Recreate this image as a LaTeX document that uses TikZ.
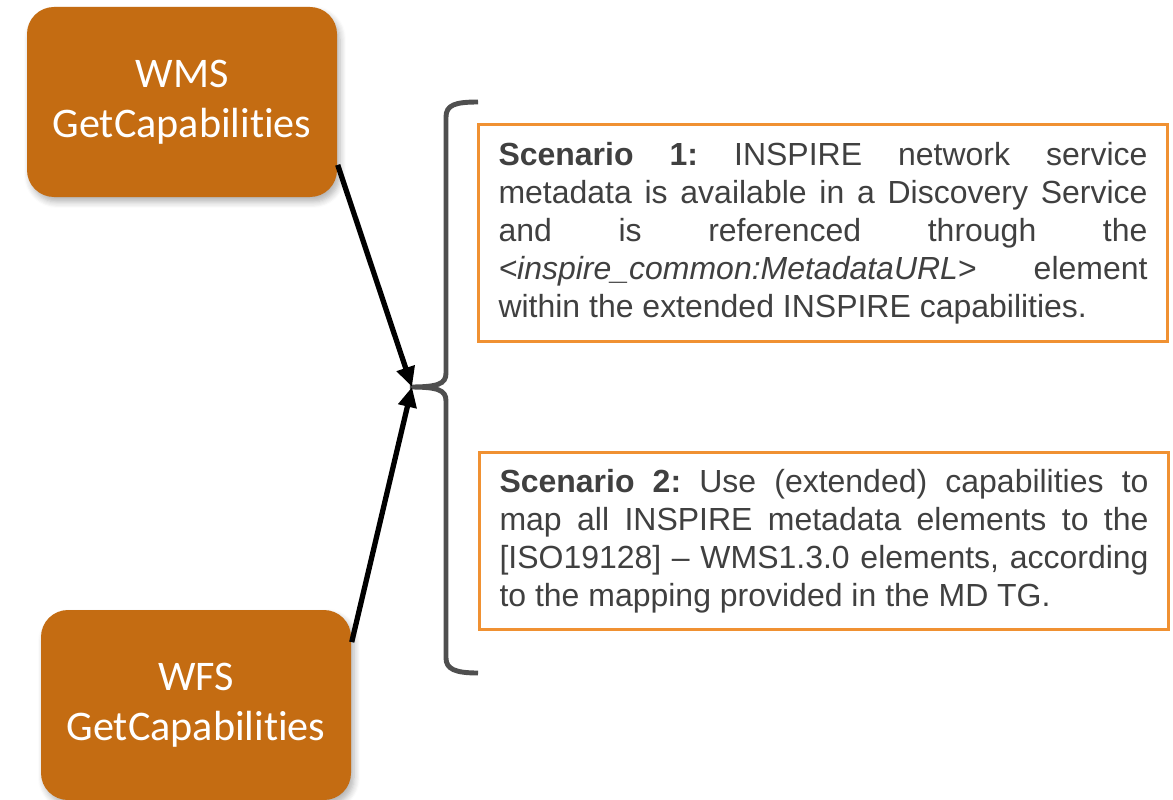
\documentclass[tikz,border=0pt]{standalone}
\usepackage{fontspec}
\newfontfamily\capfont[Ligatures=NoCommon]{Carlito}
\newfontfamily\scenfont{Liberation Sans}
\usetikzlibrary{arrows.meta,shadows.blur}
\definecolor{capbrown}{HTML}{C46C12}
\definecolor{scenorange}{HTML}{F09132}
\definecolor{textgray}{HTML}{404040}
\definecolor{bracegray}{HTML}{4F4F4F}
\begin{document}
\frenchspacing
\begin{tikzpicture}
\useasboundingbox (0,0) rectangle (11.73,7.99);
\begin{scope}[every node/.style = {rectangle, rounded corners=0.27cm, fill=capbrown,
    text=white, align=center, minimum width=3.1cm, minimum height=1.9cm,
    font=\capfont\fontsize{12}{14.2}\selectfont,
    blur shadow={shadow xshift=0.03cm, shadow yshift=-0.05cm, shadow opacity=30, shadow blur steps=6}}]
\node (wms) at (1.82, 6.97) {WMS\\GetCapabilities};
\node (wfs) at (1.96, 0.94) {WFS\\GetCapabilities};
\end{scope}
\begin{scope}[every node/.style = {rectangle, draw=scenorange, line width=1.1pt, fill=white,
    text=textgray, align=justify, text width=6.49cm, inner xsep=0.2cm,
    font=\scenfont\fontsize{9.1}{10.8}\selectfont}]
\node[minimum height=2.17cm] (scen1) at (8.23, 5.66) {\textbf{Scenario 1:} INSPIRE network service\linebreak{}
metadata is available in a Discovery Service\linebreak{}
and is referenced through the\linebreak{}
\textit{<inspire\_common:MetadataURL}> element\linebreak{}
within the extended INSPIRE capabilities.};
\node[minimum height=1.77cm] (scen2) at (8.24, 2.58) {\textbf{Scenario 2:} Use (extended) capabilities to\linebreak{}
map all INSPIRE metadata elements to the\linebreak{}
{[}ISO19128] – WMS1.3.0 elements, according\linebreak{}
to the mapping provided in the MD TG.};
\end{scope}
% brace
\draw[bracegray, line width=1.4pt] (4.78, 6.97) .. controls (4.55, 6.97) and (4.46, 6.94) .. (4.46, 6.82)
  -- (4.46, 4.26) .. controls (4.46, 4.15) and (4.38, 4.12) .. (4.10, 4.12)
  .. controls (4.38, 4.12) and (4.46, 4.09) .. (4.46, 3.98)
  -- (4.46, 1.41) .. controls (4.46, 1.30) and (4.55, 1.26) .. (4.78, 1.26);
\coordinate (meet) at (4.12, 4.12);
\begin{scope}[every edge/.style = {draw, line width=1.5pt, -{Triangle[length=0.2cm, width=0.18cm]}}]
\path (wms.-22) edge (meet);
\path (wfs.22) edge (meet);
\end{scope}
\end{tikzpicture}
\end{document}
